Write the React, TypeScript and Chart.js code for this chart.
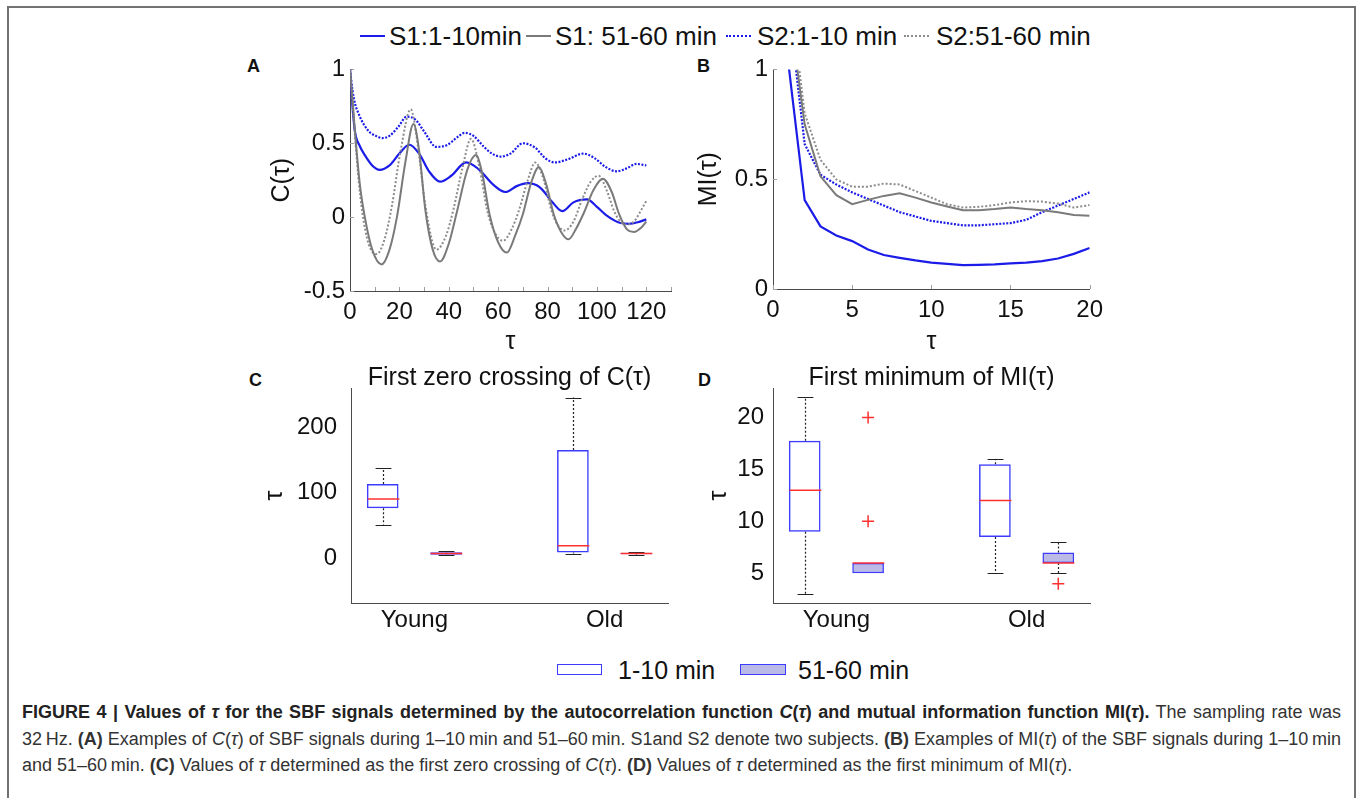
import React, { useEffect, useRef } from "react";
import { Chart, registerables } from "chart.js";

Chart.register(...registerables);

const FONT = '"Liberation Sans", Arial, Helvetica, sans-serif';
Chart.defaults.font.family = FONT;

const BLUE = "#1c1ce8";
const GRAY = "#7a7a7a";
const GRAY_DOT = "#8c8c8c";
const AXIS = "#4a4a4a";
const TEXT = "#111111";
const BOX_BLUE = "#3c3cff";
const BOX_FILL = "rgba(120,120,205,0.5)";
const MED_RED = "#ff3030";

// ---------------- Legend labels ----------------
const LEGEND_TOP = ["S1:1-10min", "S1: 51-60 min", "S2:1-10 min", "S2:51-60 min"];
const LEGEND_BOTTOM = ["1-10 min", "51-60 min"];

// ---------------- Panel A : C(tau) ----------------
const A_X_S1_EARLY = [0, 1, 2, 4, 6, 9, 12, 16, 20, 24, 28, 32, 36.5, 41, 47, 50, 53, 58, 63, 67.5, 72, 77, 82, 86, 90.5, 96, 100, 104, 109.5, 113, 116.5, 120];
const A_Y_S1_EARLY = [1.0, 0.75, 0.58, 0.48, 0.42, 0.35, 0.32, 0.35, 0.43, 0.49, 0.43, 0.31, 0.24, 0.28, 0.37, 0.35, 0.31, 0.22, 0.17, 0.21, 0.23, 0.2, 0.1, 0.04, 0.1, 0.12, 0.07, 0.01, -0.04, -0.045, -0.035, -0.015];

const A_X_S2_EARLY = [0, 1, 2, 3.5, 5.5, 8, 10.5, 13, 16, 19.5, 23, 26.5, 30, 35, 39.5, 43, 46.5, 50, 54, 57.5, 61, 65, 70, 75, 79, 83, 88, 94.5, 99, 103.5, 108, 112, 116, 120];
const A_Y_S2_EARLY = [1.0, 0.86, 0.77, 0.7, 0.63, 0.575, 0.55, 0.535, 0.55, 0.61, 0.68, 0.66, 0.58, 0.475, 0.49, 0.535, 0.57, 0.55, 0.48, 0.43, 0.41, 0.43, 0.5, 0.47, 0.4, 0.37, 0.39, 0.43, 0.4, 0.34, 0.31, 0.33, 0.36, 0.35];

const A_X_S1_LATE = [0, 1, 2, 4, 6, 9, 12.8, 16, 19, 22.5, 25.7, 28, 30.5, 33.5, 36.5, 40, 43.5, 47.5, 51, 53.5, 56.5, 60, 63.5, 67, 70, 73.5, 76.5, 79.5, 82.5, 85.5, 88.5, 91.5, 95, 98.5, 102.4, 106, 109, 112, 115, 118, 120];
const A_Y_S1_LATE = [1.0, 0.8, 0.58, 0.22, 0.0, -0.22, -0.32, -0.22, 0.0, 0.38, 0.63, 0.45, 0.05, -0.22, -0.3, -0.18, 0.05, 0.32, 0.42, 0.3, 0.02, -0.17, -0.24, -0.12, 0.02, 0.24, 0.34, 0.22, 0.02, -0.1, -0.15, -0.08, 0.04, 0.18, 0.26, 0.17, 0.02, -0.08, -0.1, -0.07, -0.03];

const A_X_S2_LATE = [0, 1, 2, 3.5, 5, 7.5, 10.8, 14, 17, 20.5, 24.6, 27.5, 30.5, 35, 39, 42, 45.5, 49, 52.5, 55.5, 58.5, 62, 65.5, 68.5, 72, 75, 78.5, 81.5, 84, 87, 90.5, 94, 97.5, 100.7, 104, 107, 109.5, 112, 115, 118, 120];
const A_Y_S2_LATE = [1.0, 0.78, 0.55, 0.25, 0.03, -0.18, -0.25, -0.15, 0.08, 0.45, 0.73, 0.48, 0.08, -0.22, -0.12, 0.06, 0.33, 0.53, 0.33, 0.05, -0.1, -0.16, -0.08, 0.05, 0.25, 0.37, 0.25, 0.05, -0.05, -0.09, -0.03, 0.12, 0.24, 0.28, 0.18, 0.04, -0.03, -0.05, -0.03, 0.05, 0.11];

const A_X_TICKS = [0, 20, 40, 60, 80, 100, 120];
const A_X_MINOR = [10, 20, 30, 40, 50, 60, 70, 80, 90, 100, 110, 120, 130];
const A_Y_TICKS = [-0.5, 0, 0.5, 1];

// ---------------- Panel B : MI(tau) ----------------
const B_TAU = [1, 2, 3, 4, 5, 6, 7, 8, 9, 10, 11, 12, 13, 14, 15, 16, 17, 18, 19, 20];
const B_S1_EARLY = [1.01, 0.405, 0.285, 0.244, 0.218, 0.18, 0.155, 0.142, 0.13, 0.12, 0.114, 0.109, 0.11, 0.112, 0.117, 0.12, 0.127, 0.139, 0.16, 0.187];
const B_S2_EARLY = [1.28, 0.66, 0.52, 0.476, 0.44, 0.41, 0.38, 0.35, 0.33, 0.31, 0.3, 0.29, 0.29, 0.295, 0.3, 0.315, 0.35, 0.38, 0.41, 0.44];
const B_S1_LATE = [1.29, 0.75, 0.513, 0.427, 0.386, 0.406, 0.424, 0.436, 0.416, 0.394, 0.376, 0.359, 0.359, 0.364, 0.371, 0.364, 0.359, 0.349, 0.337, 0.334];
const B_S2_LATE = [1.39, 0.8, 0.588, 0.499, 0.466, 0.466, 0.48, 0.476, 0.446, 0.416, 0.386, 0.371, 0.374, 0.382, 0.394, 0.4, 0.398, 0.389, 0.371, 0.382];
const B_X_TICKS = [0, 5, 10, 15, 20];
const B_Y_TICKS = [0, 0.5, 1];

// ---------------- Panels C, D : box plots [min, q1, median, q3, max] ----------------
const GROUPS = ["Young", "Old"];
const GROUP_POS = [1.5, 4.5];
const EARLY_POS = [1, 4];
const LATE_POS = [2, 5];

const C_YOUNG_EARLY = [51, 76, 90, 113, 137];
const C_YOUNG_LATE = [4, 5, 7, 9, 11];
const C_OLD_EARLY = [7, 8.7, 19, 165, 245];
const C_OLD_LATE = [5, 6, 7, 8, 9];
const C_Y_TICKS = [0, 100, 200];

const D_YOUNG_EARLY = [3, 9, 13, 17.75, 22];
const D_YOUNG_LATE = [5, 5, 6, 6, 6];
const D_OLD_EARLY = [5, 8.5, 12, 15.5, 16];
const D_OLD_LATE = [5, 6, 6, 7, 8];
const D_OUTLIER_X = [2, 2, 5];
const D_OUTLIER_Y = [20, 10, 4];
const D_Y_TICKS = [5, 10, 15, 20];

// ---------------- helpers ----------------
const pts = (xs: number[], ys: number[]) => xs.map((x, i) => ({ x, y: ys[i] }));

const lineDs = (label: string, data: any[], color: string, dash: number[], width: number, smooth: boolean) => ({
  label,
  data,
  borderColor: color,
  backgroundColor: color,
  borderDash: dash,
  borderWidth: width,
  pointRadius: 0,
  fill: false,
  tension: smooth ? 0.4 : 0,
  cubicInterpolationMode: smooth ? "monotone" : "default",
});

function xAxis(min: number, max: number, ticks: number[], height: number, title: string | null, titleBottom: number, labelPad: number, labels?: string[]) {
  return {
    type: "linear",
    position: "bottom",
    min,
    max,
    offset: false,
    afterBuildTicks: (s: any) => {
      s.ticks = ticks.map((v) => ({ value: v }));
    },
    afterFit: (s: any) => {
      s.height = height;
    },
    grid: { display: false, drawTicks: false },
    border: { display: true, color: AXIS, width: 1 },
    ticks: {
      autoSkip: false,
      maxRotation: 0,
      color: TEXT,
      padding: labelPad,
      font: { family: FONT, size: 24, lineHeight: 1.2 },
      callback: (v: any, i: number) => (labels ? labels[i] : String(v)),
    },
    title: {
      display: !!title,
      text: title || "",
      color: TEXT,
      font: { family: FONT, size: 25, lineHeight: 1.2 },
      padding: { top: 0, bottom: titleBottom },
    },
  };
}

function yAxis(min: number, max: number, ticks: number[], width: number, title: string, titleTop: number, labelPad: number) {
  return {
    type: "linear",
    position: "left",
    min,
    max,
    afterBuildTicks: (s: any) => {
      s.ticks = ticks.map((v) => ({ value: v }));
    },
    afterFit: (s: any) => {
      s.width = width;
    },
    grid: { display: false, drawTicks: false },
    border: { display: true, color: AXIS, width: 1 },
    ticks: {
      color: TEXT,
      padding: labelPad,
      font: { family: FONT, size: 24, lineHeight: 1.2 },
      callback: (v: any) => String(v),
    },
    title: {
      display: true,
      text: title,
      color: TEXT,
      font: { family: FONT, size: 25, lineHeight: 1.2 },
      padding: { top: titleTop, bottom: 0 },
    },
  };
}

function makeTickPlugin(xs: number[], ys: number[], len: number) {
  return {
    id: "inwardTicks",
    beforeDatasetsDraw(chart: any) {
      const { ctx, chartArea, scales } = chart;
      ctx.save();
      ctx.strokeStyle = "#a0a0a0";
      ctx.lineWidth = 1;
      ctx.beginPath();
      xs.forEach((v) => {
        const p = Math.round(scales.x.getPixelForValue(v)) + 0.5;
        ctx.moveTo(p, chartArea.bottom);
        ctx.lineTo(p, chartArea.bottom - len);
      });
      ys.forEach((v) => {
        const p = Math.round(scales.y.getPixelForValue(v)) + 0.5;
        ctx.moveTo(chartArea.left, p);
        ctx.lineTo(chartArea.left + len, p);
      });
      ctx.stroke();
      ctx.restore();
    },
  };
}

function makeBoxPlugin(boxes: { pos: number; s: number[] }[]) {
  return {
    id: "boxWhiskers",
    afterDatasetsDraw(chart: any) {
      const { ctx, scales } = chart;
      const x = scales.x;
      const y = scales.y;
      ctx.save();
      boxes.forEach(({ pos, s }) => {
        const [mn, q1, md, q3, mx] = s;
        const cx = Math.round(x.getPixelForValue(pos)) + 0.5;
        const hw = x.getPixelForValue(pos + 0.25) - x.getPixelForValue(pos);
        const cw = hw / 2;
        ctx.strokeStyle = "#222";
        ctx.lineWidth = 1.2;
        ctx.setLineDash([2, 2]);
        ctx.beginPath();
        if (mx > q3) {
          ctx.moveTo(cx, y.getPixelForValue(q3));
          ctx.lineTo(cx, y.getPixelForValue(mx));
        }
        if (mn < q1) {
          ctx.moveTo(cx, y.getPixelForValue(q1));
          ctx.lineTo(cx, y.getPixelForValue(mn));
        }
        ctx.stroke();
        ctx.setLineDash([]);
        ctx.beginPath();
        if (mx > q3) {
          const py = Math.round(y.getPixelForValue(mx)) + 0.5;
          ctx.moveTo(cx - cw, py);
          ctx.lineTo(cx + cw, py);
        }
        if (mn < q1) {
          const py = Math.round(y.getPixelForValue(mn)) + 0.5;
          ctx.moveTo(cx - cw, py);
          ctx.lineTo(cx + cw, py);
        }
        ctx.stroke();
        ctx.strokeStyle = MED_RED;
        ctx.lineWidth = 1.5;
        ctx.beginPath();
        const my = y.getPixelForValue(md);
        ctx.moveTo(cx - hw, my);
        ctx.lineTo(cx + hw, my);
        ctx.stroke();
      });
      ctx.restore();
    },
  };
}

// ---------------- chart configs ----------------
function configA() {
  return {
    type: "line",
    data: {
      datasets: [
        lineDs(LEGEND_TOP[1], pts(A_X_S1_LATE, A_Y_S1_LATE), GRAY, [], 2, true),
        lineDs(LEGEND_TOP[3], pts(A_X_S2_LATE, A_Y_S2_LATE), GRAY_DOT, [2, 2], 2, true),
        lineDs(LEGEND_TOP[2], pts(A_X_S2_EARLY, A_Y_S2_EARLY), BLUE, [2, 1.5], 2.2, true),
        lineDs(LEGEND_TOP[0], pts(A_X_S1_EARLY, A_Y_S1_EARLY), BLUE, [], 2.2, true),
      ],
    },
    options: {
      responsive: false,
      animation: false,
      layout: { padding: { top: 16, right: 9, bottom: 0, left: 0 } },
      plugins: { legend: { display: false }, tooltip: { enabled: false } },
      scales: {
        x: xAxis(0, 130, A_X_TICKS, 69, "τ", 3, 7),
        y: yAxis(-0.5, 1, A_Y_TICKS, 110, "C(τ)", 27, 5),
      },
    },
    plugins: [makeTickPlugin(A_X_MINOR, A_Y_TICKS, 4)],
  };
}

function configB() {
  return {
    type: "line",
    data: {
      datasets: [
        lineDs(LEGEND_TOP[1], pts(B_TAU, B_S1_LATE), GRAY, [], 2, false),
        lineDs(LEGEND_TOP[3], pts(B_TAU, B_S2_LATE), GRAY_DOT, [2, 2], 2, false),
        lineDs(LEGEND_TOP[2], pts(B_TAU, B_S2_EARLY), BLUE, [2, 1.5], 2.2, false),
        lineDs(LEGEND_TOP[0], pts(B_TAU, B_S1_EARLY), BLUE, [], 2.2, false),
      ],
    },
    options: {
      responsive: false,
      animation: false,
      layout: { padding: { top: 17, right: 16, bottom: 0, left: 0 } },
      plugins: { legend: { display: false }, tooltip: { enabled: false } },
      scales: {
        x: xAxis(0, 20, B_X_TICKS, 71, "τ", 3, 7),
        y: yAxis(0, 1, B_Y_TICKS, 83, "MI(τ)", 4, 5),
      },
    },
    plugins: [makeTickPlugin(B_X_TICKS, B_Y_TICKS, 4)],
  };
}

function configBox(
  early: number[][],
  late: number[][],
  outX: number[],
  outY: number[],
  yMin: number,
  yMax: number,
  yTicks: number[],
  yWidth: number,
  yTitleTop: number,
  yLabelPad: number,
  title: string,
  rightPad: number
) {
  const boxes = [
    ...EARLY_POS.map((p, i) => ({ pos: p, s: early[i] })),
    ...LATE_POS.map((p, i) => ({ pos: p, s: late[i] })),
  ];
  return {
    type: "bar",
    data: {
      datasets: [
        {
          label: LEGEND_BOTTOM[0],
          data: EARLY_POS.map((p, i) => ({ x: p, y: [early[i][1], early[i][3]] })),
          backgroundColor: "rgba(255,255,255,0)",
          borderColor: BOX_BLUE,
          borderWidth: 1.5,
          borderSkipped: false,
          grouped: false,
          barPercentage: 0.5,
          categoryPercentage: 1,
        },
        {
          label: LEGEND_BOTTOM[1],
          data: LATE_POS.map((p, i) => ({ x: p, y: [late[i][1], late[i][3]] })),
          backgroundColor: BOX_FILL,
          borderColor: BOX_BLUE,
          borderWidth: 1.5,
          borderSkipped: false,
          grouped: false,
          barPercentage: 0.5,
          categoryPercentage: 1,
        },
        {
          type: "scatter",
          label: "outliers",
          data: pts(outX, outY),
          pointStyle: "cross",
          pointRadius: 6,
          borderColor: MED_RED,
          backgroundColor: MED_RED,
          borderWidth: 1.5,
          showLine: false,
        },
      ],
    },
    options: {
      responsive: false,
      animation: false,
      layout: { padding: { top: 18, right: rightPad, bottom: 0, left: 0 } },
      plugins: {
        legend: { display: false },
        tooltip: { enabled: false },
        title: {
          display: true,
          text: title,
          fullSize: false,
          color: TEXT,
          font: { family: FONT, size: 25, weight: "normal", lineHeight: 0.8 },
          padding: { top: 0, bottom: 0 },
        },
      },
      scales: {
        x: xAxis(0.5, 5.5, GROUP_POS, 47, null, 0, 3, GROUPS),
        y: yAxis(yMin, yMax, yTicks, yWidth, "τ", yTitleTop, yLabelPad),
      },
    },
    plugins: [makeBoxPlugin(boxes)],
  };
}

function ChartCanvas({ left, top, width, height, make }: { left: number; top: number; width: number; height: number; make: () => any }) {
  const ref = useRef<HTMLCanvasElement>(null);
  useEffect(() => {
    const chart = new Chart(ref.current as HTMLCanvasElement, make());
    return () => chart.destroy();
  }, []);
  return (
    <canvas
      ref={ref}
      width={width}
      height={height}
      style={{ position: "absolute", left, top, width, height }}
    />
  );
}

const abs = (left: number, top: number, extra: any = {}) => ({ position: "absolute" as const, left, top, ...extra });

function LegendLine({ left, color, dotted }: { left: number; color: string; dotted: boolean }) {
  return (
    <div
      style={{
        position: "absolute",
        left,
        top: 35,
        width: 25,
        height: 0,
        borderTop: `2px ${dotted ? "dotted" : "solid"} ${color}`,
      }}
    />
  );
}

export default function App() {
  const topItems = [
    { c: BLUE, d: false, line: 360, text: 389 },
    { c: GRAY, d: false, line: 526, text: 555 },
    { c: BLUE, d: true, line: 726, text: 757 },
    { c: GRAY_DOT, d: true, line: 904, text: 936 },
  ];
  const capStyle: any = {
    position: "absolute",
    left: 22,
    width: 1319,
    fontSize: 18,
    lineHeight: "26.5px",
    color: "#333",
    whiteSpace: "nowrap",
    textAlign: "justify",
    textAlignLast: "justify",
  };
  return (
    <div style={{ position: "absolute", left: 0, top: 0, width: 1357, height: 798, overflow: "hidden", background: "#fff", fontFamily: FONT, color: TEXT }}>
      <div
        style={{
          position: "absolute",
          left: 7,
          top: 6,
          width: 1349,
          height: 830,
          boxSizing: "border-box",
          borderLeft: "2px solid #727272",
          borderTop: "2px solid #727272",
          borderRight: "2px solid #727272",
        }}
      />

      {/* top legend */}
      {LEGEND_TOP.map((t, i) => (
        <React.Fragment key={t}>
          <LegendLine left={topItems[i].line} color={topItems[i].c} dotted={topItems[i].d} />
          <div style={abs(topItems[i].text, 21, { fontSize: 26, lineHeight: "30px", whiteSpace: "nowrap" })}>{t}</div>
        </React.Fragment>
      ))}

      {/* panel letters */}
      <div style={abs(247, 56, { fontWeight: "bold", fontSize: 18 })}>A</div>
      <div style={abs(697, 56, { fontWeight: "bold", fontSize: 18 })}>B</div>
      <div style={abs(249, 370, { fontWeight: "bold", fontSize: 18 })}>C</div>
      <div style={abs(698, 370, { fontWeight: "bold", fontSize: 18 })}>D</div>

      <ChartCanvas left={240} top={50} width={440} height={310} make={configA} />
      <ChartCanvas left={690} top={50} width={420} height={310} make={configB} />
      <ChartCanvas
        left={240}
        top={350}
        width={440}
        height={300}
        make={() =>
          configBox([C_YOUNG_EARLY, C_OLD_EARLY], [C_YOUNG_LATE, C_OLD_LATE], [], [], -68.5, 259.5, C_Y_TICKS, 111, 20, 14, "First zero crossing of C(τ)", 12)
        }
      />
      <ChartCanvas
        left={690}
        top={350}
        width={420}
        height={300}
        make={() =>
          configBox([D_YOUNG_EARLY, D_OLD_EARLY], [D_YOUNG_LATE, D_OLD_LATE], D_OUTLIER_X, D_OUTLIER_Y, 2.14, 22.84, D_Y_TICKS, 83, 14, 9, "First minimum of MI(τ)", 20)
        }
      />

      {/* bottom legend */}
      <div style={abs(557, 664, { width: 43, height: 9, border: `1.5px solid ${BOX_BLUE}`, background: "#fff" })} />
      <div style={abs(618, 655, { fontSize: 25, lineHeight: "30px" })}>{LEGEND_BOTTOM[0]}</div>
      <div style={abs(740, 664, { width: 44, height: 9, border: `1.5px solid ${BOX_BLUE}`, background: "rgb(186,186,232)" })} />
      <div style={abs(798, 655, { fontSize: 25, lineHeight: "30px" })}>{LEGEND_BOTTOM[1]}</div>

      {/* caption */}
      <div style={{ ...capStyle, top: 699 }}>
        <b style={{ color: "#222" }}>
          FIGURE 4 | Values of <i>τ</i> for the SBF signals determined by the autocorrelation function <i>C</i>(<i>τ</i>) and mutual information function MI(<i>τ</i>).
        </b>{" "}
        The sampling rate was
      </div>
      <div style={{ ...capStyle, top: 725.5 }}>
        32{"\u2009"}Hz. <b>(A)</b> Examples of <i>C</i>(<i>τ</i>) of SBF signals during 1–10{"\u2009"}min and 51–60{"\u2009"}min. S1and S2 denote two subjects. <b>(B)</b> Examples of MI(<i>τ</i>) of the SBF signals during 1–10{"\u2009"}min
      </div>
      <div style={{ ...capStyle, top: 752, textAlign: "left", textAlignLast: "left" }}>
        and 51–60{"\u2009"}min. <b>(C)</b> Values of <i>τ</i> determined as the first zero crossing of <i>C</i>(<i>τ</i>). <b>(D)</b> Values of <i>τ</i> determined as the first minimum of MI(<i>τ</i>).
      </div>
    </div>
  );
}
